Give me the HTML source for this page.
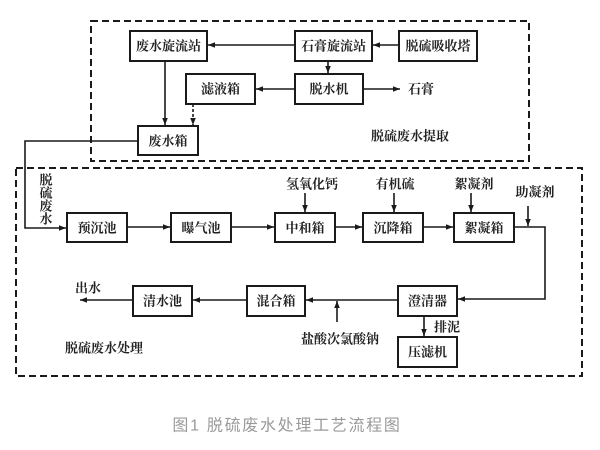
<!DOCTYPE html>
<html><head><meta charset="utf-8">
<style>
html,body{margin:0;padding:0;background:#fff;}
svg{display:block;}
.t{font-family:"Liberation Serif","Noto Serif CJK SC",serif;font-size:13px;font-weight:bold;fill:#222;}
.b{fill:#fff;stroke:#1a1a1a;stroke-width:2;}
.l{stroke:#1a1a1a;stroke-width:1.6;fill:none;}
.d{stroke:#1a1a1a;stroke-width:2;fill:none;stroke-dasharray:7 4;}
.cap{font-family:"Liberation Sans","Noto Sans CJK SC",sans-serif;font-size:16px;fill:#9a9a9a;letter-spacing:1.7px;}
</style></head>
<body>
<svg width="600" height="450" viewBox="0 0 600 450" xmlns="http://www.w3.org/2000/svg">
<defs>
<marker id="a" viewBox="0 0 10 10" refX="10" refY="5" markerWidth="7" markerHeight="7" markerUnits="userSpaceOnUse" orient="auto">
<path d="M0,1 L10,5 L0,9 z" fill="#1a1a1a"/>
</marker>
</defs>

<!-- dashed regions -->
<rect class="d" x="91" y="21" width="438" height="140"/>
<rect class="d" x="16" y="168" width="566" height="208"/>

<!-- upper connectors -->
<line class="l" x1="399" y1="45" x2="373" y2="45" marker-end="url(#a)"/>
<line class="l" x1="295" y1="45" x2="208" y2="45" marker-end="url(#a)"/>
<line class="l" x1="328" y1="61" x2="328" y2="73" marker-end="url(#a)"/>
<line class="l" x1="295" y1="89" x2="256" y2="89" marker-end="url(#a)"/>
<line class="l" x1="363" y1="89" x2="400" y2="89" marker-end="url(#a)"/>
<line class="l" x1="165" y1="61" x2="165" y2="125" marker-end="url(#a)"/>
<line class="l" x1="193" y1="104" x2="193" y2="125" stroke-dasharray="3 2" marker-end="url(#a)"/>

<!-- feed line -->
<polyline class="l" points="138,141 25,141 25,228 66,228" marker-end="url(#a)"/>

<!-- row1 connectors -->
<line class="l" x1="127" y1="227" x2="170" y2="227" marker-end="url(#a)"/>
<line class="l" x1="231" y1="227" x2="274" y2="227" marker-end="url(#a)"/>
<line class="l" x1="335" y1="227" x2="362" y2="227" marker-end="url(#a)"/>
<line class="l" x1="423" y1="227" x2="453" y2="227" marker-end="url(#a)"/>
<polyline class="l" points="514,227 545,227 545,299 458,299" marker-end="url(#a)"/>

<line class="l" x1="305" y1="193" x2="305" y2="212" marker-end="url(#a)"/>
<line class="l" x1="394" y1="193" x2="394" y2="212" marker-end="url(#a)"/>
<line class="l" x1="471" y1="193" x2="471" y2="212" marker-end="url(#a)"/>
<line class="l" x1="528" y1="206" x2="528" y2="226" marker-end="url(#a)"/>

<!-- row2 connectors -->
<line class="l" x1="398" y1="300" x2="306" y2="300" marker-end="url(#a)"/>
<line class="l" x1="247" y1="300" x2="193" y2="300" marker-end="url(#a)"/>
<line class="l" x1="133" y1="300" x2="80" y2="300" marker-end="url(#a)"/>
<line class="l" x1="337" y1="322" x2="337" y2="301" marker-end="url(#a)"/>
<line class="l" x1="424" y1="316" x2="424" y2="336" marker-end="url(#a)"/>

<!-- boxes upper -->
<rect class="b" x="130" y="31" width="77" height="30"/>
<text class="t" x="168.5" y="46" text-anchor="middle" dominant-baseline="central">废水旋流站</text>
<rect class="b" x="295" y="31" width="77" height="30"/>
<text class="t" x="333.5" y="46" text-anchor="middle" dominant-baseline="central">石膏旋流站</text>
<rect class="b" x="399" y="31" width="78" height="30"/>
<text class="t" x="438" y="46" text-anchor="middle" dominant-baseline="central">脱硫吸收塔</text>
<rect class="b" x="186" y="74" width="69" height="30"/>
<text class="t" x="220.5" y="89" text-anchor="middle" dominant-baseline="central">滤液箱</text>
<rect class="b" x="295" y="74" width="68" height="30"/>
<text class="t" x="329" y="89" text-anchor="middle" dominant-baseline="central">脱水机</text>
<rect class="b" x="138" y="126" width="60" height="29"/>
<text class="t" x="168" y="141" text-anchor="middle" dominant-baseline="central">废水箱</text>
<text class="t" x="421" y="89" text-anchor="middle" dominant-baseline="central">石膏</text>
<text class="t" x="410" y="136" text-anchor="middle" dominant-baseline="central">脱硫废水提取</text>

<!-- row1 boxes -->
<rect class="b" x="67" y="213" width="60" height="29"/>
<text class="t" x="97" y="228" text-anchor="middle" dominant-baseline="central">预沉池</text>
<rect class="b" x="171" y="213" width="60" height="29"/>
<text class="t" x="201" y="228" text-anchor="middle" dominant-baseline="central">曝气池</text>
<rect class="b" x="275" y="213" width="60" height="29"/>
<text class="t" x="305" y="228" text-anchor="middle" dominant-baseline="central">中和箱</text>
<rect class="b" x="363" y="213" width="60" height="29"/>
<text class="t" x="393" y="228" text-anchor="middle" dominant-baseline="central">沉降箱</text>
<rect class="b" x="454" y="213" width="60" height="29"/>
<text class="t" x="484" y="228" text-anchor="middle" dominant-baseline="central">絮凝箱</text>

<text class="t" x="312" y="184" text-anchor="middle" dominant-baseline="central">氢氧化钙</text>
<text class="t" x="395" y="184" text-anchor="middle" dominant-baseline="central">有机硫</text>
<text class="t" x="474" y="184" text-anchor="middle" dominant-baseline="central">絮凝剂</text>
<text class="t" x="535" y="192" text-anchor="middle" dominant-baseline="central">助凝剂</text>

<!-- vertical label -->
<text class="t" x="46" y="180" text-anchor="middle" dominant-baseline="central">脱</text>
<text class="t" x="46" y="193" text-anchor="middle" dominant-baseline="central">硫</text>
<text class="t" x="46" y="206" text-anchor="middle" dominant-baseline="central">废</text>
<text class="t" x="46" y="219" text-anchor="middle" dominant-baseline="central">水</text>

<!-- row2 boxes -->
<rect class="b" x="133" y="286" width="59" height="30"/>
<text class="t" x="162.5" y="301" text-anchor="middle" dominant-baseline="central">清水池</text>
<rect class="b" x="247" y="286" width="58" height="30"/>
<text class="t" x="276" y="301" text-anchor="middle" dominant-baseline="central">混合箱</text>
<rect class="b" x="398" y="286" width="59" height="30"/>
<text class="t" x="427.5" y="301" text-anchor="middle" dominant-baseline="central">澄清器</text>
<rect class="b" x="398" y="337" width="59" height="30"/>
<text class="t" x="427.5" y="352" text-anchor="middle" dominant-baseline="central">压滤机</text>

<text class="t" x="88" y="288" text-anchor="middle" dominant-baseline="central">出水</text>
<text class="t" x="340" y="339" text-anchor="middle" dominant-baseline="central">盐酸次氯酸钠</text>
<text class="t" x="447" y="327" text-anchor="middle" dominant-baseline="central">排泥</text>
<text class="t" x="104" y="348" text-anchor="middle" dominant-baseline="central">脱硫废水处理</text>

<text class="cap" x="287" y="426" text-anchor="middle" dominant-baseline="central">图1 脱硫废水处理工艺流程图</text>
</svg>
</body></html>
